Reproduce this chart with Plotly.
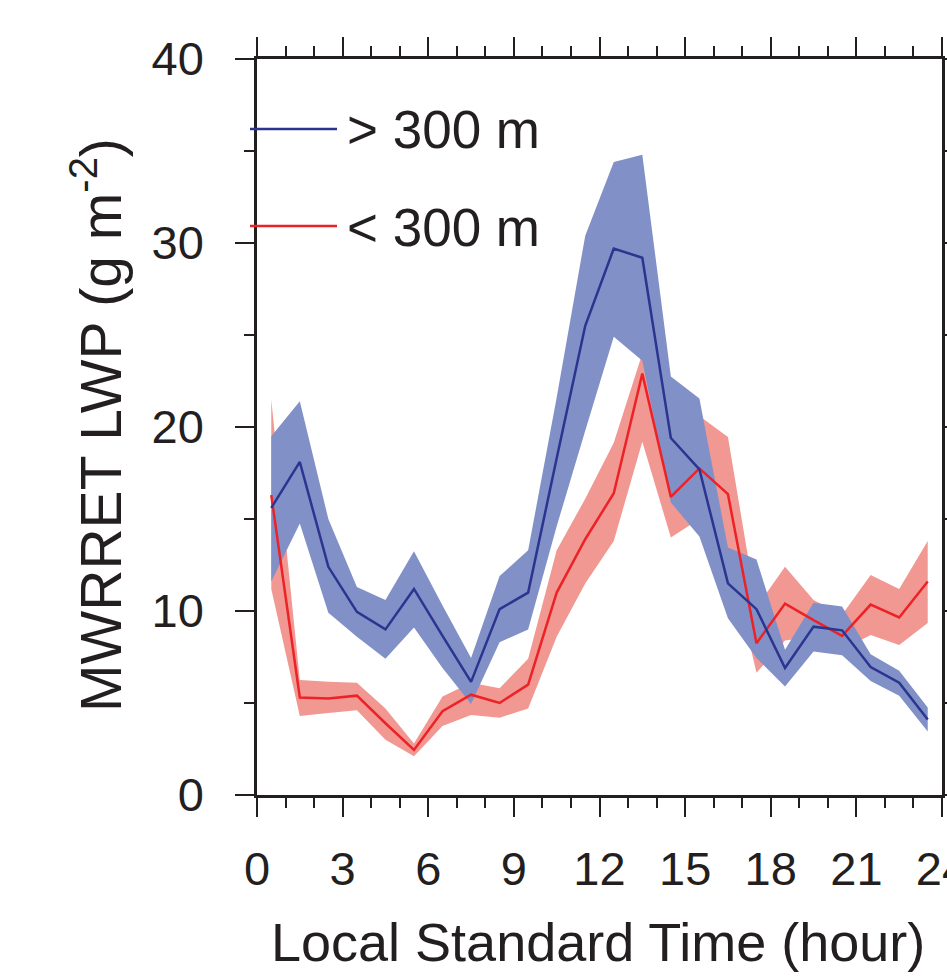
import plotly.graph_objects as go

# ---- data ----
hours = [0.5, 1.5, 2.5, 3.5, 4.5, 5.5, 6.5, 7.5, 8.5, 9.5, 10.5, 11.5,
         12.5, 13.5, 14.5, 15.5, 16.5, 17.5, 18.5, 19.5, 20.5, 21.5, 22.5, 23.5]

blue_mean = [15.6, 18.1, 12.4, 9.95, 9.0, 11.2, 8.65, 6.15, 10.1, 11.0, 18.3, 25.5,
             29.7, 29.2, 19.4, 17.7, 11.5, 10.1, 6.9, 9.15, 8.95, 6.95, 6.1, 4.1]
blue_upper = [19.5, 21.4, 15.0, 11.3, 10.6, 13.25, 10.3, 7.45, 11.9, 13.3, 21.6, 30.4,
              34.4, 34.8, 22.75, 21.55, 13.45, 12.8, 7.9, 10.45, 10.25, 7.65, 6.75, 4.75]
blue_lower = [11.6, 14.75, 9.9, 8.6, 7.4, 9.1, 6.9, 4.95, 8.3, 9.0, 14.6, 19.8,
              24.9, 23.6, 15.9, 14.05, 9.6, 7.45, 5.9, 7.8, 7.6, 6.2, 5.4, 3.45]

red_mean = [16.3, 5.3, 5.25, 5.4, 3.9, 2.45, 4.55, 5.45, 5.0, 6.0, 11.0, 13.9,
            16.4, 22.9, 16.2, 17.75, 16.35, 8.25, 10.4, 9.5, 8.65, 10.35, 9.65, 11.6]
red_upper = [21.5, 6.25, 6.15, 6.1, 4.7, 2.8, 5.35, 6.1, 5.8, 7.4, 13.3, 16.1,
             19.15, 24.0, 18.8, 20.6, 19.45, 10.2, 12.4, 10.6, 9.8, 11.95, 11.2, 13.8]
red_lower = [11.2, 4.3, 4.45, 4.6, 3.0, 2.1, 3.75, 4.35, 4.2, 4.7, 8.6, 11.5,
             13.8, 19.2, 14.0, 15.0, 13.3, 6.65, 8.4, 8.6, 7.9, 8.7, 8.15, 9.35]

x_ticks = [0, 3, 6, 9, 12, 15, 18, 21, 24]
y_ticks = [0, 10, 20, 30, 40]
series_names = ["> 300 m", "< 300 m"]

BLUE_LINE = "#2b3590"
BLUE_FILL = "#8191c7"
RED_LINE = "#ec2227"
RED_FILL = "#f19893"
TXT = "#231f20"
FONT = "Liberation Sans, Arial, sans-serif"

fig = go.Figure()

def band(upper, lower, color):
    return go.Scatter(x=hours + hours[::-1], y=upper + lower[::-1],
                      fill="toself", fillcolor=color, mode="none",
                      line=dict(width=0), hoverinfo="skip", showlegend=False)

fig.add_trace(band(red_upper, red_lower, RED_FILL))
fig.add_trace(band(blue_upper, blue_lower, BLUE_FILL))
fig.add_trace(go.Scatter(x=hours, y=red_mean, mode="lines", name=series_names[1],
                         line=dict(color=RED_LINE, width=2.5), showlegend=False))
fig.add_trace(go.Scatter(x=hours, y=blue_mean, mode="lines", name=series_names[0],
                         line=dict(color=BLUE_LINE, width=2.5), showlegend=False))

axis_common = dict(showline=True, linewidth=2.5, linecolor=TXT, mirror="ticks",
                   ticks="outside", ticklen=19, tickwidth=2, tickcolor=TXT,
                   showgrid=False, zeroline=False, automargin=False,
                   ticklabeloverflow="allow",
                   tickfont=dict(family=FONT, size=47, color=TXT))

fig.update_xaxes(range=[0, 24], tickvals=x_ticks, ticklabelstandoff=12,
                 minor=dict(dtick=1, ticks="outside", ticklen=10, tickwidth=1.5,
                            tickcolor=TXT, showgrid=False),
                 **axis_common)
fig.update_yaxes(range=[0, 40], tickvals=y_ticks, ticklabelstandoff=22,
                 minor=dict(dtick=5, ticks="outside", ticklen=10, tickwidth=1.5,
                            tickcolor=TXT, showgrid=False),
                 **axis_common)

# body margin is removed by the post script, so figure coords = page coords
W, H = 947, 976
L, T = 257, 59
R = W - 942
B = H - 795
pw, ph = W - L - R, H - T - B

def px(xp):
    return (xp - L) / pw

def py(yp):
    return (H - B - yp) / ph

# axis titles
fig.add_annotation(text="Local Standard Time (hour)", xref="paper", yref="paper",
                   x=px(598), y=py(942), xanchor="center", yanchor="middle",
                   showarrow=False, font=dict(family=FONT, size=54, color=TXT))
fig.add_annotation(text="MWRRET LWP (g m<sup>-2</sup>)", xref="paper", yref="paper",
                   x=px(97), y=py(425), xanchor="center", yanchor="middle",
                   textangle=-90, showarrow=False,
                   font=dict(family=FONT, size=57, color=TXT))

# legend keys
for name, col, yp in [(series_names[0], BLUE_LINE, 129), (series_names[1], RED_LINE, 226)]:
    fig.add_shape(type="line", xref="paper", yref="paper",
                  x0=px(250), x1=px(337), y0=py(yp), y1=py(yp),
                  line=dict(color=col, width=2.5))
    fig.add_annotation(text=name, xref="paper", yref="paper",
                       x=px(345), y=py(yp + 1), xanchor="left", yanchor="middle",
                       showarrow=False, font=dict(family=FONT, size=53, color=TXT))

fig.update_layout(width=W, height=H, margin=dict(l=L, r=R, t=T, b=B),
                  plot_bgcolor="white", paper_bgcolor="white", showlegend=False)

fig.write_html("out.html", config={"displayModeBar": False},
               post_script="document.body.style.margin='0';"
                           "document.body.style.overflow='hidden';")
